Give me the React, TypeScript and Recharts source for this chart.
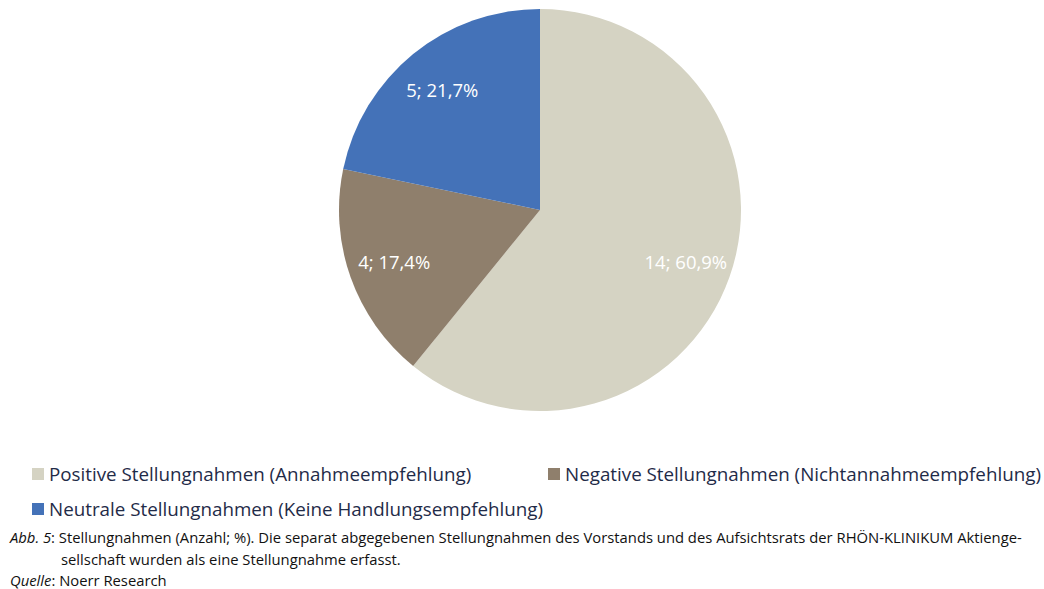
import React from "react";
import { PieChart, Pie, Cell, Legend } from "recharts";

const categories = [
  "Positive Stellungnahmen (Annahmeempfehlung)",
  "Negative Stellungnahmen (Nichtannahmeempfehlung)",
  "Neutrale Stellungnahmen (Keine Handlungsempfehlung)",
];
const counts = [14, 4, 5];
const percentLabels = ["60,9%", "17,4%", "21,7%"];
const colors = ["#D5D3C3", "#8F7F6C", "#4472B8"];

const data = categories.map((name, i) => ({
  name,
  value: counts[i],
  pct: percentLabels[i],
}));

const RADIAN = Math.PI / 180;

const renderLabel = (props: any) => {
  const { cx, cy, midAngle, outerRadius, index } = props;
  const r = outerRadius * 0.77;
  const x = cx + r * Math.cos(-midAngle * RADIAN);
  const y = cy + r * Math.sin(-midAngle * RADIAN);
  return (
    <text
      x={x}
      y={y}
      fill="#ffffff"
      textAnchor="middle"
      dominantBaseline="central"
      fontSize={18.5}
      fontFamily="Open Sans"
    >
      {counts[index]}; {percentLabels[index]}
    </text>
  );
};

const renderLegend = () => {
  const item = (i: number, left: number, top: number) => (
    <div
      key={i}
      style={{
        position: "absolute",
        left,
        top,
        display: "flex",
        alignItems: "center",
        whiteSpace: "nowrap",
      }}
    >
      <span
        style={{
          display: "inline-block",
          width: 12,
          height: 12,
          background: colors[i],
          marginRight: 5,
        }}
      />
      <span style={{ fontSize: 18.8, color: "#1F2B48", fontFamily: "Open Sans" }}>
        {categories[i]}
      </span>
    </div>
  );
  return (
    <div style={{ position: "relative", width: 1044, height: 70 }}>
      {item(0, 32, 0)}
      {item(1, 548, 0)}
      {item(2, 32, 35)}
    </div>
  );
};

const App = () => {
  return (
    <div
      style={{
        position: "absolute",
        left: 0,
        top: 0,
        width: 1044,
        height: 589,
        background: "#fff",
        fontFamily: "Open Sans",
      }}
    >
      <PieChart width={1044} height={528} margin={{ top: 0, right: 0, bottom: 0, left: 0 }}>
        <Pie
          data={data}
          dataKey="value"
          nameKey="name"
          cx={540}
          cy={210}
          outerRadius={201}
          startAngle={90}
          endAngle={-270}
          stroke="none"
          label={renderLabel}
          labelLine={false}
          isAnimationActive={false}
        >
          {data.map((d, i) => (
            <Cell key={d.name} fill={colors[i]} />
          ))}
        </Pie>
        <Legend
          content={renderLegend}
          wrapperStyle={{ left: 0, top: 461, width: 1044 }}
        />
      </PieChart>
      <div
        style={{
          position: "absolute",
          left: 10,
          top: 527,
          fontSize: 14.8,
          lineHeight: "21.5px",
          color: "#111",
          whiteSpace: "nowrap",
        }}
      >
        <div>
          <i>Abb. 5</i>: Stellungnahmen (Anzahl; %). Die separat abgegebenen
          Stellungnahmen des Vorstands und des Aufsichtsrats der RHÖN-KLINIKUM
          Aktienge-
        </div>
        <div style={{ paddingLeft: 51 }}>
          sellschaft wurden als eine Stellungnahme erfasst.
        </div>
        <div>
          <i>Quelle</i>: Noerr Research
        </div>
      </div>
    </div>
  );
};

export default App;
